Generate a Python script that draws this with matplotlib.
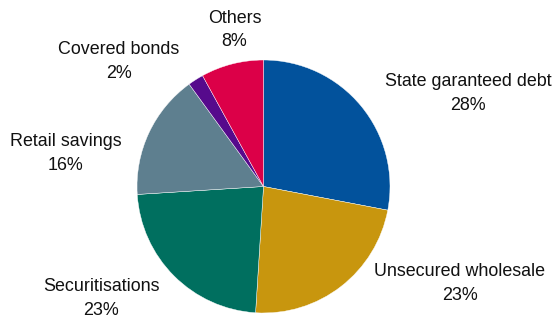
import matplotlib.pyplot as plt

labels = ["State garanteed debt", "Unsecured wholesale", "Securitisations",
          "Retail savings", "Covered bonds", "Others"]
shares = [28, 23, 23, 16, 2, 8]
colors = ["#02529C", "#C8960E", "#006F5F", "#5E7F8F", "#560A8C", "#DC0048"]

# label centres in pixels (x, y of first line)
label_pos = [(468, 81.7), (460, 271.7), (101.3, 286.7), (65.8, 141.7), (119, 50), (234.5, 18.3)]

W, H = 559, 320
fig = plt.figure(figsize=(W / 100, H / 100), dpi=100)
plt.rcParams['font.family'] = ['Liberation Sans', 'DejaVu Sans']

cx, cy, r = 263.5, 186.5, 126.5
ax = fig.add_axes([(cx - r) / W, (H - cy - r) / H, 2 * r / W, 2 * r / H])
ax.pie(shares, colors=colors, startangle=90, counterclock=False,
       wedgeprops=dict(edgecolor='white', linewidth=0.3))
ax.set_xlim(-1, 1)
ax.set_ylim(-1, 1)

for (name, val), (x, y) in zip(zip(labels, shares), label_pos):
    fig.text(x / W, 1 - y / H, name, ha='center', va='center', fontsize=12.9, color='#111111')
    fig.text(x / W, 1 - (y + 23.5) / H, f"{val}%", ha='center', va='center', fontsize=12.9, color='#111111')

fig.savefig("out.png", dpi=100)
